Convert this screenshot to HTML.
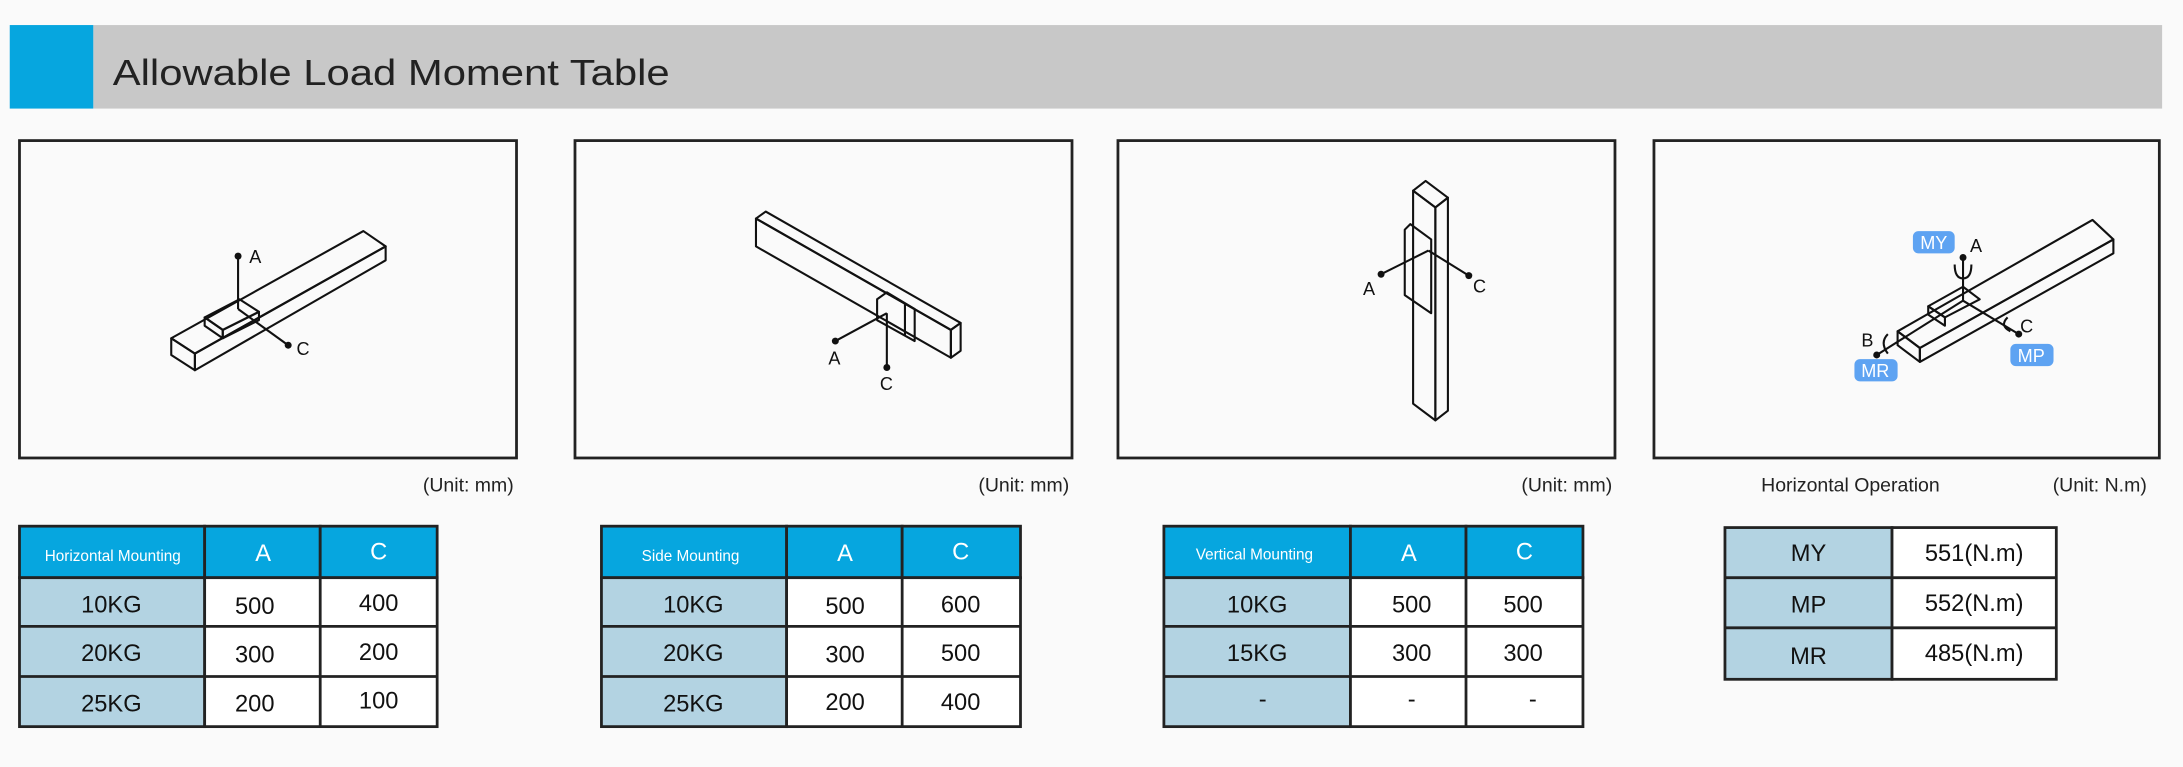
<!DOCTYPE html>
<html><head><meta charset="utf-8"><style>
html,body{margin:0;padding:0;background:#fafafa;}
svg{display:block;}
text{font-family:"Liberation Sans",sans-serif;}
</style></head><body>
<svg width="2183" height="767" viewBox="0 0 1568 551" preserveAspectRatio="none" xmlns="http://www.w3.org/2000/svg">
<rect width="1568" height="551" fill="#fafafa"/>
<!-- header -->
<rect x="67" y="18" width="1486" height="60" fill="#c8c8c8"/>
<rect x="7" y="18" width="60" height="60" fill="#06a6df"/>
<text x="81" y="61" font-size="26" fill="#222" textLength="400" lengthAdjust="spacingAndGlyphs">Allowable Load Moment Table</text>

<g fill="#fafafa" stroke="#222" stroke-width="2">
<rect x="14" y="101" width="357" height="228"/>
<rect x="413" y="101" width="357" height="228"/>
<rect x="803" y="101" width="357" height="228"/>
<rect x="1188" y="101" width="363" height="228"/>
</g>

<g font-size="14" fill="#222">
<text x="369" y="353" text-anchor="end">(Unit: mm)</text>
<text x="768" y="353" text-anchor="end">(Unit: mm)</text>
<text x="1158" y="353" text-anchor="end">(Unit: mm)</text>
<text x="1265" y="353">Horizontal Operation</text>
<text x="1542" y="353" text-anchor="end">(Unit: N.m)</text>
</g>

<g fill="none" stroke="#111" stroke-width="1.5" stroke-linejoin="round">
<!-- box1 rail -->
<polygon points="123,243 261,166 277,177 140,254"/>
<polygon points="123,243 140,254 140,266 123,255"/>
<polygon points="140,254 277,177 277,187 140,266"/>
<polygon points="147,228 172,215 186,224 160,237"/>
<polygon points="147,228 160,237 160,243 147,234"/>
<polygon points="160,237 186,224 186,230 160,243"/>
<line x1="171" y1="184" x2="171" y2="222"/>
<line x1="171" y1="222" x2="207" y2="248"/>
<!-- box2 rail -->
<polygon points="543,157 550,152 690,232 683,237"/>
<polygon points="543,157 683,237 683,257 543,177"/>
<polygon points="683,237 690,232 690,252 683,257"/>
<polygon points="630,215 637,210 657,222 657,245 630,230"/>
<line x1="650" y1="218" x2="650" y2="241"/>
<line x1="637" y1="225" x2="600" y2="245"/>
<line x1="637" y1="225" x2="637" y2="264"/>
<!-- box3 rail -->
<polygon points="1015,137 1024,130 1040,142 1031,149"/>
<polygon points="1015,137 1031,149 1031,302 1015,290"/>
<polygon points="1031,149 1040,142 1040,295 1031,302"/>
<polygon points="1009,165 1013,161 1028,172 1028,225 1009,212"/>
<line x1="1026" y1="180" x2="992" y2="197"/>
<line x1="1026" y1="180" x2="1055" y2="198"/>
<!-- box4 rail -->
<polygon points="1363,238 1503,158 1518,172 1379,250"/>
<polygon points="1363,238 1379,250 1379,260 1363,248"/>
<polygon points="1379,250 1518,172 1518,182 1379,260"/>
<polygon points="1385,220 1410,206 1422,215 1397,228"/>
<polygon points="1385,220 1397,228 1397,234 1385,226"/>
<line x1="1410" y1="185" x2="1410" y2="216"/>
<line x1="1410" y1="216" x2="1450" y2="240"/>
<line x1="1410" y1="216" x2="1348" y2="255"/>
<path d="M1404,190 q0,10 6,10 q6,0 6,-10"/>
<path d="M1442,228 q-6,6 2,10"/>
<path d="M1356,240 q-6,6 0,14"/>
</g>
<g fill="#111">
<circle cx="171" cy="184" r="2.5"/><circle cx="207" cy="248" r="2.5"/>
<circle cx="600" cy="245" r="2.5"/><circle cx="637" cy="264" r="2.5"/>
<circle cx="992" cy="197" r="2.5"/><circle cx="1055" cy="198" r="2.5"/>
<circle cx="1410" cy="185" r="2.5"/><circle cx="1450" cy="240" r="2.5"/><circle cx="1348" cy="255" r="2.5"/>
</g>
<g font-size="13" fill="#111">
<text x="179" y="189">A</text><text x="213" y="255">C</text>
<text x="595" y="262">A</text><text x="632" y="280">C</text>
<text x="979" y="212">A</text><text x="1058" y="210">C</text>
<text x="1415" y="181">A</text><text x="1451" y="239">C</text><text x="1337" y="249">B</text>
</g>
<g fill="#5ea3f2">
<rect x="1374" y="166" width="30" height="16" rx="4"/>
<rect x="1444" y="247" width="31" height="16" rx="4"/>
<rect x="1332" y="258" width="31" height="16" rx="4"/>
</g>
<g font-size="13" fill="#fff" text-anchor="middle">
<text x="1389" y="179">MY</text><text x="1459" y="260">MP</text><text x="1347" y="271">MR</text>
</g>

<!-- tables -->
<g stroke="#222" stroke-width="2">
<rect x="14" y="378" width="133" height="37" fill="#06a6df"/><rect x="147" y="378" width="83" height="37" fill="#06a6df"/><rect x="230" y="378" width="84" height="37" fill="#06a6df"/>
<rect x="14" y="415" width="133" height="107" fill="#b3d3e2"/><rect x="147" y="415" width="167" height="107" fill="#fff"/>
<line x1="14" y1="450" x2="314" y2="450"/><line x1="14" y1="486" x2="314" y2="486"/><line x1="230" y1="415" x2="230" y2="522"/>

<rect x="432" y="378" width="133" height="37" fill="#06a6df"/><rect x="565" y="378" width="83" height="37" fill="#06a6df"/><rect x="648" y="378" width="85" height="37" fill="#06a6df"/>
<rect x="432" y="415" width="133" height="107" fill="#b3d3e2"/><rect x="565" y="415" width="168" height="107" fill="#fff"/>
<line x1="432" y1="450" x2="733" y2="450"/><line x1="432" y1="486" x2="733" y2="486"/><line x1="648" y1="415" x2="648" y2="522"/>

<rect x="836" y="378" width="134" height="37" fill="#06a6df"/><rect x="970" y="378" width="83" height="37" fill="#06a6df"/><rect x="1053" y="378" width="84" height="37" fill="#06a6df"/>
<rect x="836" y="415" width="134" height="107" fill="#b3d3e2"/><rect x="970" y="415" width="167" height="107" fill="#fff"/>
<line x1="836" y1="450" x2="1137" y2="450"/><line x1="836" y1="486" x2="1137" y2="486"/><line x1="1053" y1="415" x2="1053" y2="522"/>

<rect x="1239" y="379" width="120" height="109" fill="#b3d3e2"/><rect x="1359" y="379" width="118" height="109" fill="#fff"/>
<line x1="1239" y1="415" x2="1477" y2="415"/><line x1="1239" y1="451" x2="1477" y2="451"/>
</g>
<g font-size="11" fill="#fff" text-anchor="middle">
<text x="81" y="403">Horizontal Mounting</text><text x="496" y="403">Side Mounting</text><text x="901" y="402">Vertical Mounting</text>
</g>
<g font-size="17" fill="#fff" text-anchor="middle">
<text x="189" y="403">A</text><text x="272" y="402">C</text>
<text x="607" y="403">A</text><text x="690" y="402">C</text>
<text x="1012" y="403">A</text><text x="1095" y="402">C</text>
</g>
<g font-size="17" fill="#111" text-anchor="middle">
<text x="80" y="440">10KG</text><text x="183" y="441">500</text><text x="272" y="439">400</text>
<text x="80" y="475">20KG</text><text x="183" y="476">300</text><text x="272" y="474">200</text>
<text x="80" y="511">25KG</text><text x="183" y="511">200</text><text x="272" y="509">100</text>
<text x="498" y="440">10KG</text><text x="607" y="441">500</text><text x="690" y="440">600</text>
<text x="498" y="475">20KG</text><text x="607" y="476">300</text><text x="690" y="475">500</text>
<text x="498" y="511">25KG</text><text x="607" y="510">200</text><text x="690" y="510">400</text>
<text x="903" y="440">10KG</text><text x="1014" y="440">500</text><text x="1094" y="440">500</text>
<text x="903" y="475">15KG</text><text x="1014" y="475">300</text><text x="1094" y="475">300</text>
<text x="907" y="508">-</text><text x="1014" y="508">-</text><text x="1101" y="508">-</text>
<text x="1299" y="403">MY</text><text x="1418" y="403">551(N.m)</text>
<text x="1299" y="440">MP</text><text x="1418" y="439">552(N.m)</text>
<text x="1299" y="477">MR</text><text x="1418" y="475">485(N.m)</text>
</g>
</svg>
</body></html>
